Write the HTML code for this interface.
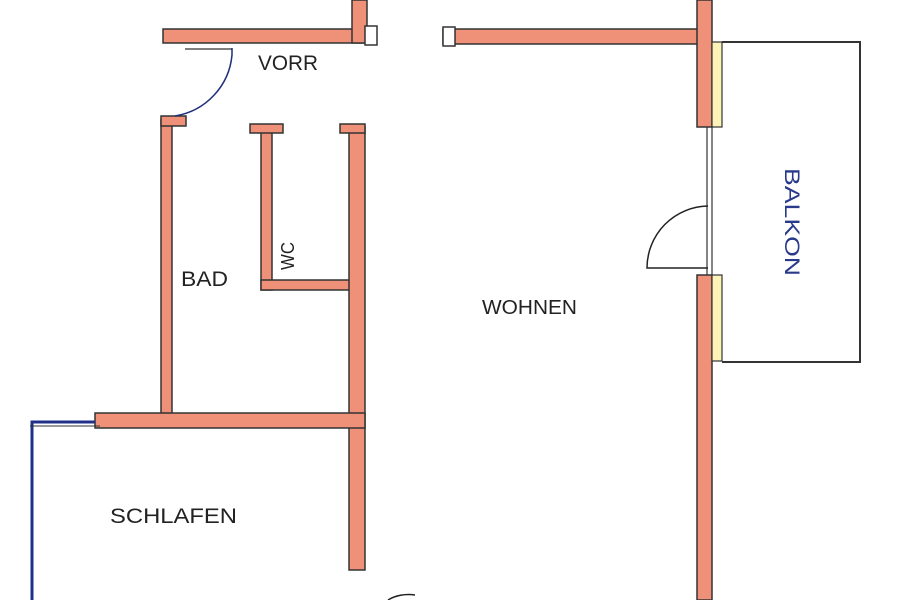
<!DOCTYPE html>
<html><head><style>
html,body{margin:0;padding:0;background:#fff;}
svg{display:block;}
text{font-family:"Liberation Sans",sans-serif;fill:#222;}
</style></head><body>
<svg width="900" height="600" viewBox="0 0 900 600" xmlns="http://www.w3.org/2000/svg">
<g fill="#ef9079" stroke="#333" stroke-width="1.5">
 <rect x="163" y="29" width="200" height="14"/>
 <rect x="352" y="0" width="15" height="43"/>
 <rect x="365" y="26" width="12" height="19" fill="#fff"/>
 <rect x="443" y="29" width="262" height="15"/>
 <rect x="443" y="27" width="12" height="19" fill="#fff"/>
 <rect x="697" y="0" width="15" height="127"/>
 <rect x="161" y="120" width="11" height="300"/>
 <rect x="161" y="116" width="25" height="10"/>
 <rect x="261" y="127" width="11" height="163"/>
 <rect x="250" y="124" width="33" height="9"/>
 <rect x="261" y="280" width="95" height="10"/>
 <rect x="349" y="127" width="16" height="443"/>
 <rect x="340" y="124" width="25" height="9"/>
 <rect x="95" y="413" width="270" height="15"/>
 <rect x="697" y="275" width="15" height="325"/>
</g>
<rect x="712" y="42" width="10" height="85" fill="#fbf3b8" stroke="#333" stroke-width="1.2"/>
<rect x="712" y="275" width="10" height="86" fill="#fbf3b8" stroke="#333" stroke-width="1.2"/>
<line x1="707" y1="127" x2="707" y2="275" stroke="#333" stroke-width="1.2"/>
<line x1="712" y1="127" x2="712" y2="275" stroke="#333" stroke-width="1.2"/>
<polyline points="722,42 860,42 860,362 722,362" fill="none" stroke="#333" stroke-width="2"/>
<polyline points="32,600 32,422 95,422" fill="none" stroke="#1f2f8a" stroke-width="3"/>
<line x1="30" y1="426" x2="100" y2="426" stroke="#333" stroke-width="1"/>
<path d="M232,48 L232,55 A68,68 0 0 1 175,116" fill="none" stroke="#1f2f7a" stroke-width="1.5"/>
<line x1="185" y1="49" x2="232" y2="49" stroke="#333" stroke-width="1.2"/>
<path d="M708,268 L647,268 A62,62 0 0 1 708,206" fill="none" stroke="#222" stroke-width="1.5"/>
<path d="M388,600 A30,20 0 0 1 415,595" fill="none" stroke="#222" stroke-width="1.5"/>
<text x="258" y="70" font-size="21" textLength="60" lengthAdjust="spacingAndGlyphs">VORR</text>
<text x="181" y="286" font-size="21" textLength="47" lengthAdjust="spacingAndGlyphs">BAD</text>
<text x="482" y="314" font-size="20" textLength="95" lengthAdjust="spacingAndGlyphs">WOHNEN</text>
<text x="110" y="523" font-size="21" textLength="127" lengthAdjust="spacingAndGlyphs">SCHLAFEN</text>
<text transform="translate(294,270) rotate(-90)" font-size="18" textLength="28" lengthAdjust="spacingAndGlyphs">WC</text>
<text transform="translate(785,168) rotate(90)" font-size="21" textLength="108" lengthAdjust="spacingAndGlyphs" style="fill:#2a3a8a">BALKON</text>
</svg>
</body></html>
